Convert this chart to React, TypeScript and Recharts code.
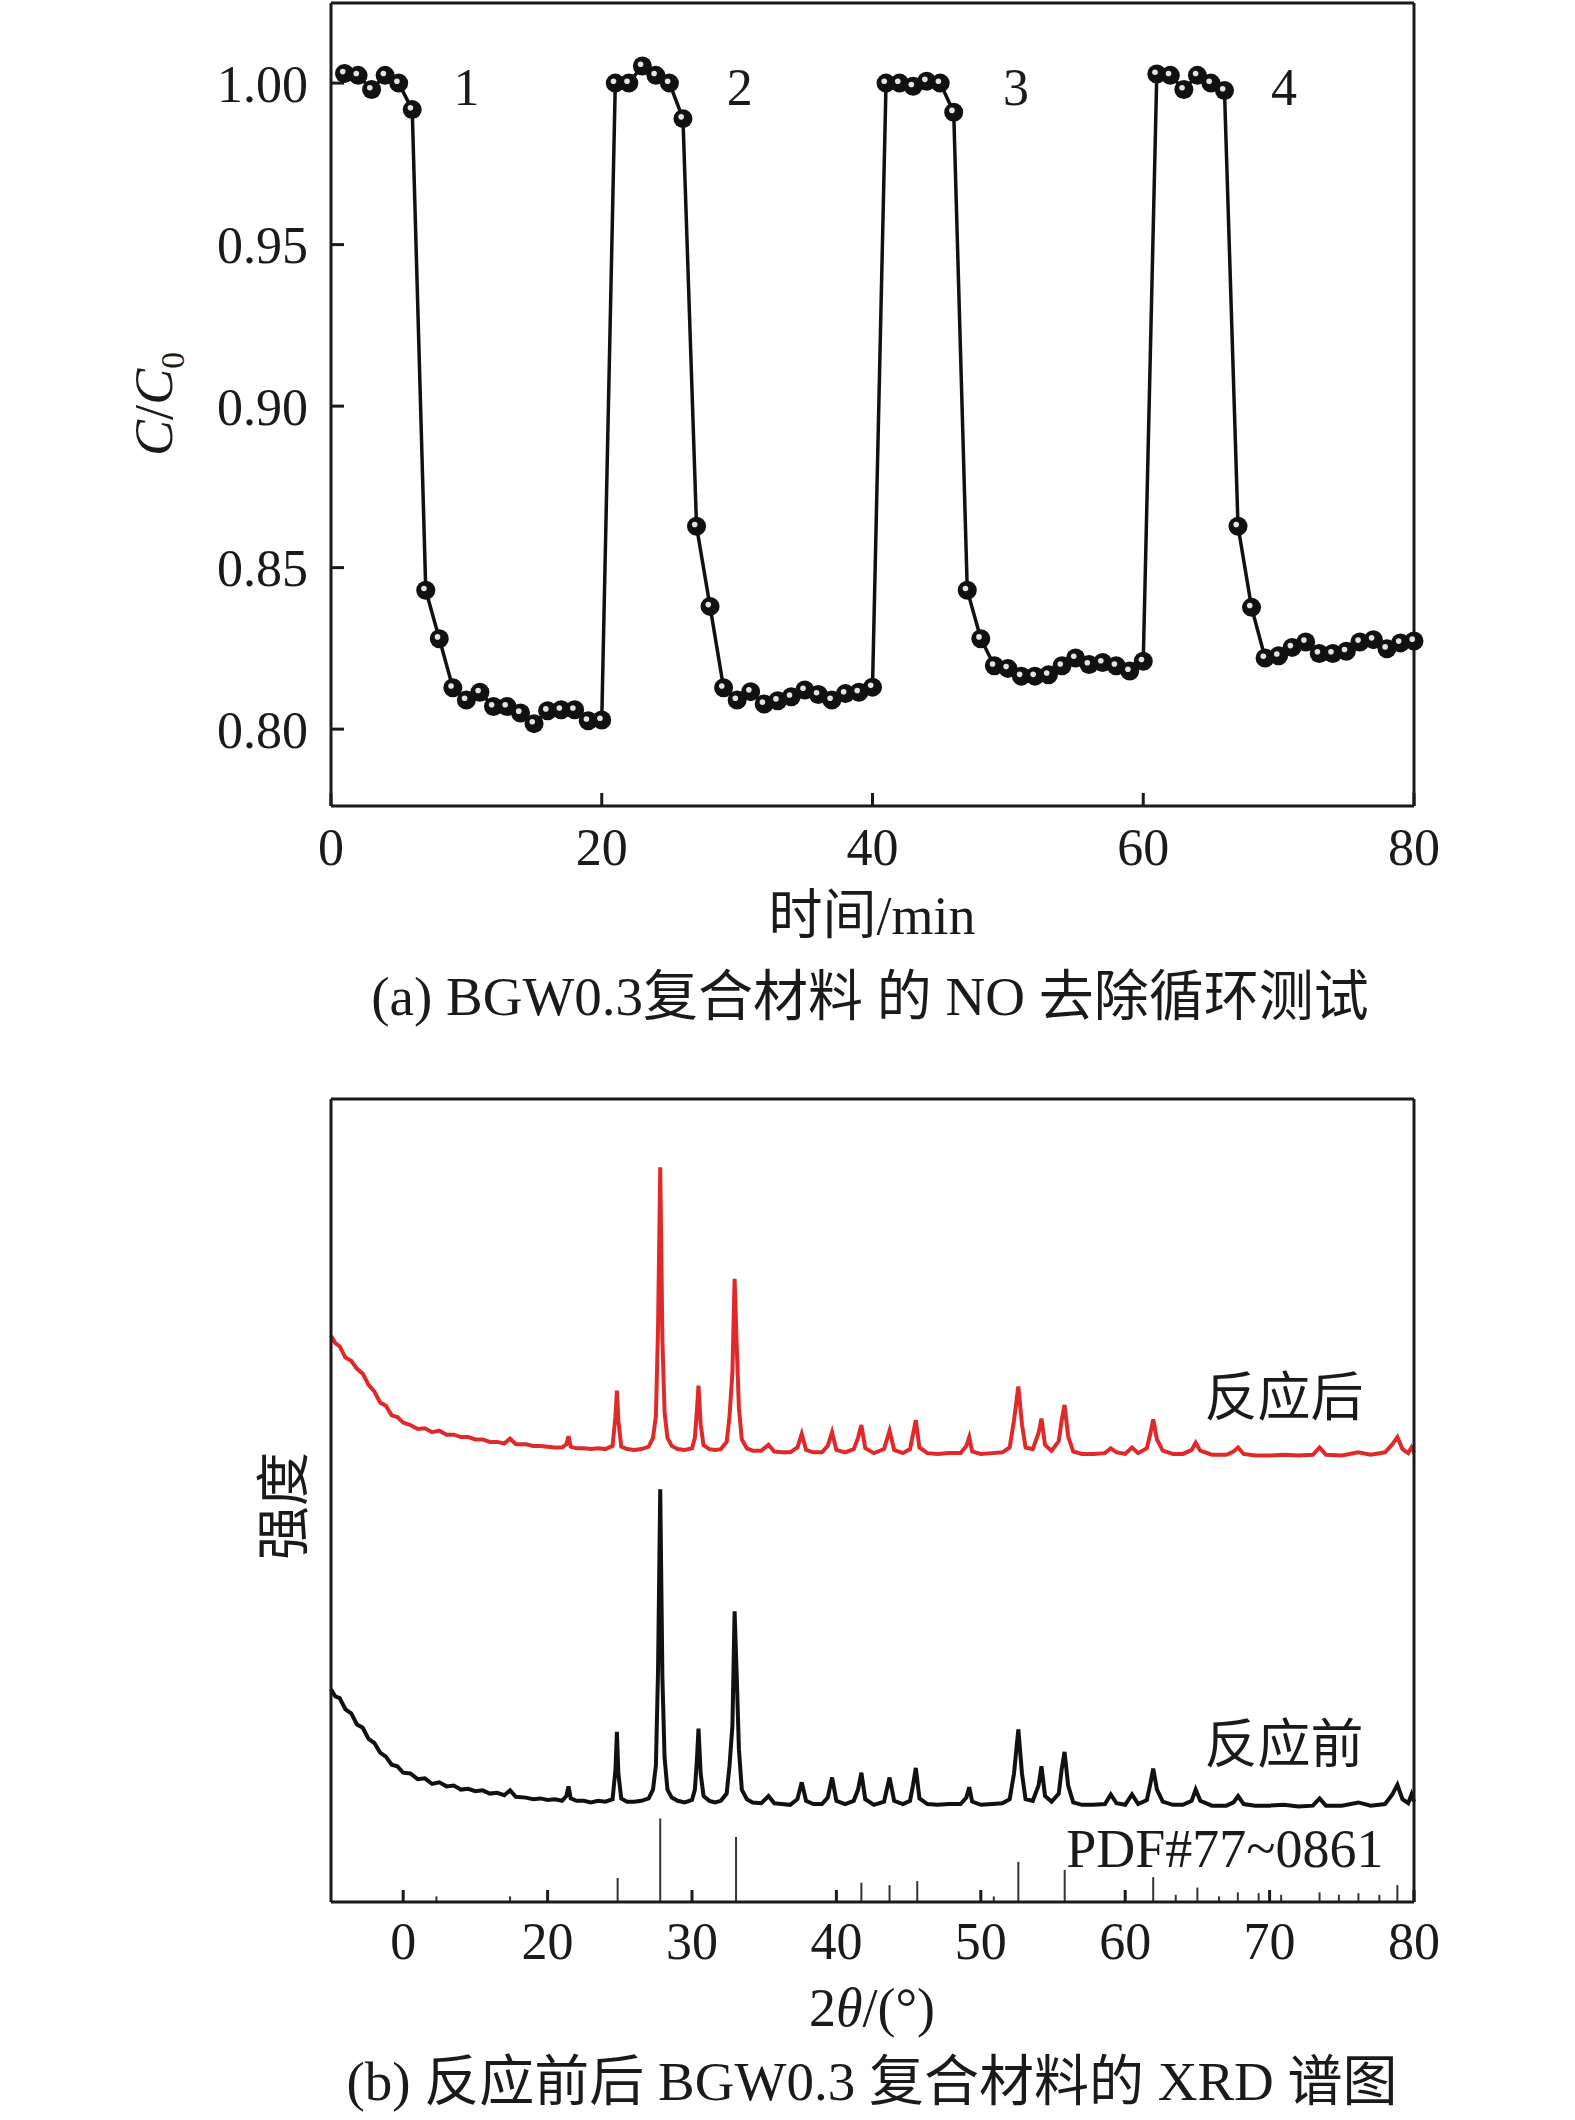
import React from "react";
import { LineChart, Line, XAxis, YAxis, ReferenceDot, ReferenceLine } from "recharts";

const SERIF = '"Liberation Serif", "Times New Roman", "Noto Sans CJK SC", serif';
const INK = "#1a1a1a";
const RED = "#e02a2a";

// (a) NO removal cycles, one reading per minute
const minutes = [
  1, 2, 3, 4, 5, 6, 7, 8, 9, 10, 11, 12, 13, 14, 15, 16, 17, 18, 19, 20,
  21, 22, 23, 24, 25, 26, 27, 28, 29, 30, 31, 32, 33, 34, 35, 36, 37, 38, 39, 40,
  41, 42, 43, 44, 45, 46, 47, 48, 49, 50, 51, 52, 53, 54, 55, 56, 57, 58, 59, 60,
  61, 62, 63, 64, 65, 66, 67, 68, 69, 70, 71, 72, 73, 74, 75, 76, 77, 78, 79, 80,
];
const ratio = [
  1.003, 1.0024, 0.998, 1.0024, 1.0, 0.9918, 0.843, 0.828, 0.8128, 0.809,
  0.8114, 0.807, 0.807, 0.805, 0.8017, 0.8057, 0.806, 0.806, 0.8026, 0.8028,
  1.0, 1.0, 1.0053, 1.0024, 1.0, 0.989, 0.8628, 0.838, 0.8128, 0.809,
  0.8116, 0.8078, 0.8088, 0.81, 0.8121, 0.8107, 0.809, 0.811, 0.8114, 0.813,
  1.0, 1.0, 0.999, 1.0006, 1.0, 0.991, 0.843, 0.828, 0.8196, 0.8188,
  0.8164, 0.8164, 0.8168, 0.8196, 0.822, 0.82, 0.8206, 0.8196, 0.818, 0.821,
  1.0028, 1.0024, 0.998, 1.0024, 1.0, 0.9977, 0.8628, 0.8377, 0.822, 0.8227,
  0.8253, 0.827, 0.8234, 0.8234, 0.8241, 0.827, 0.8277, 0.8249, 0.8267, 0.8273,
];
const timeTicks = [0, 20, 40, 60, 80];
const ratioTicks = [0.8, 0.85, 0.9, 0.95, 1.0];
const cycleNames = ["1", "2", "3", "4"];
const cycleNameX = [10, 30.2, 50.6, 70.4];

// (b) XRD patterns, 2θ and intensity (arbitrary units, stacked)
const angle = [
  5.0, 5.3, 5.6, 6.0, 6.4, 6.8, 7.2, 7.6, 8.0, 8.4,
  8.8, 9.2, 9.6, 10.0, 10.5, 11.0, 11.5, 12.0, 12.5, 13.0,
  13.5, 14.0, 14.5, 15.0, 15.5, 16.0, 16.5, 17.0, 17.4, 17.8,
  18.5, 19.0, 19.5, 20.0, 20.5, 21.0, 21.3, 21.45, 21.6, 22.0,
  22.5, 23.0, 23.5, 24.0, 24.5, 24.7, 24.8, 24.9, 25.1, 25.5,
  26.0, 26.5, 27.0, 27.3, 27.5, 27.65, 27.8, 27.95, 28.1, 28.3,
  28.6, 29.0, 29.5, 30.0, 30.2, 30.35, 30.45, 30.6, 30.8, 31.2,
  31.6, 32.0, 32.4, 32.6, 32.8, 32.95, 33.1, 33.25, 33.45, 33.8,
  34.2, 34.8, 35.3, 35.7, 36.2, 36.8, 37.3, 37.6, 37.9, 38.4,
  39.0, 39.4, 39.7, 40.0, 40.6, 41.2, 41.5, 41.73, 42.0, 42.6,
  43.3, 43.68, 44.0, 44.6, 45.1, 45.3, 45.5, 45.75, 46.3, 47.0,
  47.8, 48.6, 49.0, 49.2, 49.4, 50.0, 50.8, 51.5, 52.0, 52.3,
  52.6, 52.85, 53.1, 53.6, 54.0, 54.2, 54.45, 54.9, 55.4, 55.6,
  55.8, 56.05, 56.4, 57.0, 57.8, 58.6, 59.0, 59.4, 60.0, 60.47,
  60.9, 61.5, 61.75, 61.94, 62.2, 62.6, 63.3, 64.0, 64.6, 64.88,
  65.2, 66.0, 67.0, 67.5, 67.82, 68.2, 69.0, 70.0, 71.0, 72.0,
  73.0, 73.46, 73.9, 75.0, 76.15, 77.0, 78.0, 78.5, 78.85, 79.2,
  79.6, 79.83, 80.0,
];
const beforeReaction = [
  26.5, 25.6, 25.4, 24.0, 23.5, 22.1, 21.7, 20.3, 19.8, 18.6,
  18.1, 17.1, 16.9, 16.1, 16.0, 15.3, 15.4, 14.7, 14.9, 14.4,
  14.5, 14.0, 14.1, 13.8, 13.9, 13.5, 13.6, 13.3, 13.9, 13.1,
  13.0, 12.8, 12.9, 12.7, 12.8, 12.6, 13.2, 14.4, 12.9, 12.6,
  12.6, 12.4, 12.6, 12.5, 12.8, 16.5, 21.2, 16.0, 12.9, 12.5,
  12.5, 12.6, 12.9, 14.0, 17.0, 29.0, 51.4, 28.0, 18.0, 14.0,
  13.0, 12.6, 12.4, 12.7, 14.0, 18.0, 21.6, 16.0, 13.2, 12.6,
  12.4, 12.6, 13.5, 17.0, 22.0, 36.2, 28.0, 19.0, 14.0, 12.8,
  12.4, 12.3, 13.2, 12.3, 12.2, 12.1, 12.8, 14.9, 12.6, 12.2,
  12.2, 13.0, 15.5, 12.6, 12.2, 12.6, 14.0, 16.1, 12.8, 12.1,
  12.5, 15.5, 12.6, 12.2, 12.6, 14.5, 16.7, 12.9, 12.2, 12.1,
  12.2, 12.2, 13.0, 14.3, 12.5, 12.1, 12.2, 12.3, 12.8, 16.0,
  21.5, 16.0, 12.8, 12.6, 14.5, 16.9, 13.2, 12.5, 13.5, 16.5,
  18.7, 14.5, 12.4, 12.1, 12.1, 12.2, 13.4, 12.3, 12.1, 13.4,
  12.2, 12.7, 14.8, 16.6, 14.0, 12.5, 12.1, 12.1, 12.6, 14.0,
  12.6, 12.0, 12.0, 12.4, 13.2, 12.2, 12.0, 12.0, 12.1, 11.9,
  12.0, 12.9, 12.0, 12.0, 12.4, 12.0, 12.2, 13.4, 14.6, 12.8,
  12.3, 13.4, 12.5,
];
const afterReaction = [
  70.5, 69.6, 69.2, 67.8, 67.4, 66.4, 65.8, 64.4, 63.6, 62.2,
  61.8, 60.6, 60.4, 59.7, 59.4, 58.9, 59.0, 58.5, 58.7, 58.2,
  58.2, 57.9, 57.9, 57.6, 57.6, 57.3, 57.3, 57.1, 57.7, 57.0,
  57.0, 56.8, 56.8, 56.7, 56.6, 56.6, 57.0, 58.0, 56.7, 56.5,
  56.5, 56.4, 56.5, 56.4, 56.8, 60.5, 63.7, 60.0, 56.7, 56.4,
  56.3, 56.4, 56.7, 57.8, 60.5, 71.6, 91.5, 70.0, 61.0, 57.8,
  56.8, 56.4, 56.3, 56.5, 57.8, 61.5, 64.3, 59.5, 56.9, 56.4,
  56.3, 56.4, 57.3, 60.5, 66.0, 77.6, 69.2, 61.5, 57.6, 56.5,
  56.2, 56.2, 56.95, 56.1, 56.0, 56.0, 56.6, 58.3, 56.3, 56.0,
  56.0, 56.8, 58.5, 56.3, 56.0, 56.4, 57.8, 59.4, 56.5, 55.9,
  56.4, 58.7, 56.3, 55.9, 56.4, 58.2, 60.0, 56.6, 55.9, 55.8,
  55.9, 55.9, 56.8, 57.9, 56.1, 55.8, 55.9, 56.0, 56.6, 60.0,
  64.2, 59.5, 56.6, 56.4, 58.4, 60.2, 56.9, 56.2, 57.4, 60.0,
  61.9, 58.0, 56.1, 55.8, 55.8, 55.9, 56.5, 56.0, 55.8, 56.6,
  55.9, 56.5, 58.4, 60.1, 57.6, 56.2, 55.8, 55.8, 56.3, 57.2,
  56.2, 55.7, 55.7, 56.1, 56.6, 55.8, 55.6, 55.6, 55.7, 55.6,
  55.7, 56.6, 55.7, 55.6, 56.0, 55.7, 56.0, 57.0, 57.9, 56.4,
  55.9, 56.6, 56.0,
];
// PDF#77-0861 reference sticks
const pdfAngle = [
  12.3, 17.4, 24.85, 27.8, 33.05, 41.73, 43.68, 45.6, 50.9, 52.6, 55.81, 61.94,
  63.5, 65.0, 66.5, 67.8, 69.24, 70.8, 73.46, 74.8, 76.15, 77.6, 78.85,
];
const pdfHeight = [
  0.7, 0.7, 3.0, 10.4, 8.1, 2.4, 2.1, 2.6, 0.7, 5.0, 4.0, 3.1,
  0.9, 1.8, 0.7, 1.2, 1.1, 0.9, 1.2, 0.9, 1.1, 0.9, 2.1,
];
const xrdTicks = [10, 20, 30, 40, 50, 60, 70, 80];
const xrdTickLabels = ["0", "20", "30", "40", "50", "60", "70", "80"];

const cycleRows = minutes.map((t, i) => ({ t, r: ratio[i] }));
const xrdRows = angle.map((a, i) => ({ a, before: beforeReaction[i], after: afterReaction[i] }));

const AXIS = { stroke: INK, strokeWidth: 3 };
const TICK = { fontSize: 52, fill: INK, fontFamily: SERIF };

function SphereDot({ cx, cy }: any) {
  if (cx == null || cy == null) return null;
  return (
    <g>
      <circle cx={cx} cy={cy} r={9.5} fill="#111" />
      <circle cx={cx - 1.8} cy={cy - 1.8} r={2.8} fill="#e4e4e4" />
    </g>
  );
}

function Caption({ x, y, size = 52, rotate, children }: any) {
  return (
    <div
      style={{
        position: "absolute",
        left: x,
        top: y,
        transform: `translate(-50%, -50%)${rotate ? " rotate(-90deg)" : ""}`,
        fontSize: size,
        lineHeight: 1,
        whiteSpace: "nowrap",
        color: INK,
        fontFamily: SERIF,
      }}
    >
      {children}
    </div>
  );
}

function textShape(label: string, size: number) {
  return (p: any) => (
    <text x={p.cx} y={p.cy} textAnchor="middle" dominantBaseline="central" fontSize={size} fill={INK} fontFamily={SERIF}>
      {label}
    </text>
  );
}

export default function App() {
  return (
    <div style={{ position: "absolute", left: 0, top: 0, width: 1575, height: 2120, background: "#fff", fontFamily: SERIF }}>
      <div style={{ position: "absolute", left: 0, top: 0 }}>
        <LineChart width={1575} height={880} data={cycleRows} margin={{ top: 2, right: 160, bottom: 0, left: 131 }}>
          <XAxis dataKey="t" type="number" domain={[0, 80]} ticks={timeTicks} interval={0} height={74}
            tickSize={-13} tickMargin={35} axisLine={AXIS} tickLine={AXIS} tick={TICK} />
          <XAxis xAxisId="top" orientation="top" type="number" domain={[0, 80]} height={1}
            tick={false} tickLine={false} axisLine={AXIS} />
          <YAxis type="number" domain={[0.7762, 1.0248]} ticks={ratioTicks} interval={0} width={200} allowDataOverflow
            tickSize={-13} tickMargin={36} tickFormatter={(v: number) => v.toFixed(2)}
            axisLine={AXIS} tickLine={AXIS} tick={TICK} />
          <YAxis yAxisId="right" orientation="right" type="number" domain={[0, 1]} width={1}
            tick={false} tickLine={false} axisLine={AXIS} />
          <Line dataKey="r" type="linear" stroke="#111" strokeWidth={3.5}
            dot={(p: any) => <SphereDot key={p.index} {...p} />} activeDot={false} isAnimationActive={false} />
          {cycleNames.map((n, i) => (
            <ReferenceDot key={n} x={cycleNameX[i]} y={0.9985} r={0} shape={textShape(n, 52)} />
          ))}
        </LineChart>
      </div>

      <Caption x={158} y={404} size={54} rotate>
        <i>C</i>/<i>C</i><sub style={{ fontSize: "0.62em" }}>0</sub>
      </Caption>
      <Caption x={872} y={916} size={54}>时间/min</Caption>
      <Caption x={870} y={996} size={55}>(a) BGW0.3复合材料 的 NO 去除循环测试</Caption>

      <div style={{ position: "absolute", left: 0, top: 1000 }}>
        <LineChart width={1575} height={1000} data={xrdRows} margin={{ top: 98, right: 160, bottom: 40, left: 330 }}>
          <XAxis dataKey="a" type="number" domain={[5, 80]} ticks={xrdTicks} interval={0} height={58}
            tickSize={-12} tickMargin={32} axisLine={AXIS} tickLine={AXIS} tick={TICK}
            tickFormatter={(v: number) => xrdTickLabels[xrdTicks.indexOf(v)]} />
          <XAxis xAxisId="top" orientation="top" type="number" domain={[5, 80]} height={1}
            tick={false} tickLine={false} axisLine={AXIS} />
          <YAxis type="number" domain={[0, 100]} width={1} allowDataOverflow
            tick={false} tickLine={false} axisLine={AXIS} />
          <YAxis yAxisId="right" orientation="right" type="number" domain={[0, 100]} width={1}
            tick={false} tickLine={false} axisLine={AXIS} />
          {pdfAngle.map((a, i) => (
            <ReferenceLine key={a} segment={[{ x: a, y: 0 }, { x: a, y: pdfHeight[i] }]} stroke="#333" strokeWidth={2} />
          ))}
          <Line dataKey="after" type="linear" stroke={RED} strokeWidth={4} dot={false} activeDot={false} isAnimationActive={false} />
          <Line dataKey="before" type="linear" stroke="#111" strokeWidth={4} dot={false} activeDot={false} isAnimationActive={false} />
          <ReferenceDot x={71} y={62.8} r={0} shape={textShape("反应后", 53)} />
          <ReferenceDot x={71} y={19.6} r={0} shape={textShape("反应前", 53)} />
          <ReferenceDot x={66.9} y={6.6} r={0} shape={textShape("PDF#77~0861", 54)} />
        </LineChart>
      </div>

      <Caption x={285} y={1506} size={54} rotate>强度</Caption>
      <Caption x={872} y={2008} size={54}>
        2<i>θ</i>/(°)
      </Caption>
      <Caption x={872} y={2081} size={55}>(b) 反应前后 BGW0.3 复合材料的 XRD 谱图</Caption>
    </div>
  );
}
